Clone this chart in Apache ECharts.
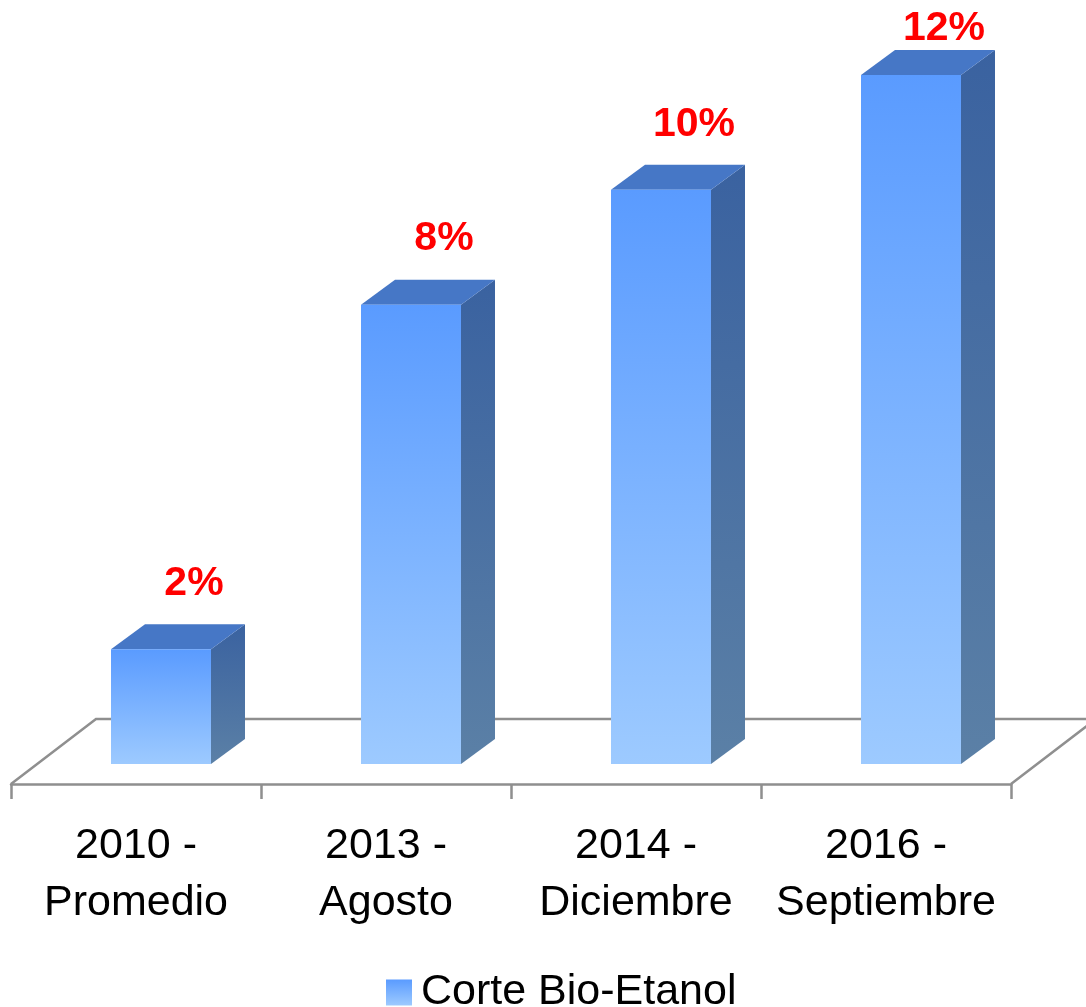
<!DOCTYPE html>
<html>
<head>
<meta charset="utf-8">
<script src="https://cdn.jsdelivr.net/npm/echarts@6/dist/echarts.min.js"></script>
<style>
  html, body { margin: 0; padding: 0; background: #fff; }
  #chart { width: 1086px; height: 1007px; }
</style>
</head>
<body>
<div id="chart"></div>
<script>
// datos del grafico
let categories = ['2010 -\nPromedio', '2013 -\nAgosto', '2014 -\nDiciembre', '2016 -\nSeptiembre'];
let corteValues = [2, 8, 10, 12];
let labelTexts = ['2%', '8%', '10%', '12%'];
let seriesName = 'Corte Bio-Etanol';

let fontFamily = '"Liberation Sans", Arial, sans-serif';
let floorColor = '#8f8f8f';

// 3D look: bar depth and offsets (px)
let depthX = 34, depthY = 25;       // bar depth
let frontX = 25, frontY = 20;       // bar front plane inset from floor front edge
let floorX = 85, floorY = 65;       // floor depth

function frontGradient() {
  return new echarts.graphic.LinearGradient(0, 0, 0, 1, [
    {offset: 0, color: '#5a9bff'},
    {offset: 1, color: '#9dcaff'}
  ]);
}

function sideGradient() {
  return new echarts.graphic.LinearGradient(0, 0, 0, 1, [
    {offset: 0, color: '#3a62a0'},
    {offset: 1, color: '#5b80a6'}
  ]);
}

function renderBar(params, api) {
  let idx = api.value(0);
  let base = api.coord([idx, 0]);
  let top = api.coord([idx, api.value(1)]);
  let band = api.size([1, 0])[0];
  let w = band * 0.4;
  let cx = base[0] + frontX;
  let x0 = cx - w / 2, x1 = cx + w / 2;
  let yb = base[1] - frontY;
  let yt = top[1] - frontY;
  // etiqueta sobre la barra, sin salirse del borde superior
  let labelY = Math.max(yt - depthY - 20, 49);
  return {
    type: 'group',
    children: [
      {
        type: 'polygon',
        shape: {points: [[x1, yt], [x1 + depthX, yt - depthY], [x1 + depthX, yb - depthY], [x1, yb]]},
        style: {fill: sideGradient()}
      },
      {
        type: 'polygon',
        shape: {points: [[x0, yt], [x0 + depthX, yt - depthY], [x1 + depthX, yt - depthY], [x1, yt]]},
        style: {fill: '#4677c6'}
      },
      {
        type: 'rect',
        shape: {x: x0, y: yt, width: w, height: yb - yt},
        style: {fill: frontGradient()}
      },
      {
        type: 'text',
        x: cx + 33,
        y: labelY,
        style: {
          text: labelTexts[params.dataIndex],
          fill: '#ff0000',
          font: 'bold 41px ' + fontFamily,
          textAlign: 'center',
          textVerticalAlign: 'bottom'
        }
      }
    ]
  };
}

function renderFloor(params, api) {
  let band = api.size([1, 0])[0];
  let left = api.coord([0, 0]);
  let right = api.coord([categories.length - 1, 0]);
  let lx = left[0] - band / 2, rx = right[0] + band / 2, y = left[1];
  return {
    type: 'polyline',
    shape: {points: [[lx, y], [lx + floorX, y - floorY], [rx + floorX, y - floorY], [rx, y]]},
    style: {stroke: floorColor, lineWidth: 2.5, fill: null}
  };
}

let chart = echarts.init(document.getElementById('chart'));
let option = {
  backgroundColor: '#fff',
  animation: false,
  grid: {left: 11, right: 75, top: 95, bottom: 223},
  legend: {
    data: [seriesName],
    left: 381,
    top: 966,
    icon: 'rect',
    itemWidth: 26,
    itemHeight: 26,
    textStyle: {fontSize: 43, fontFamily: fontFamily, color: '#000', padding: [0, 0, 0, 4]}
  },
  xAxis: {
    type: 'category',
    data: categories,
    axisLine: {show: true, lineStyle: {color: floorColor, width: 2.5}},
    axisTick: {show: true, length: 15, lineStyle: {color: floorColor, width: 2.5}},
    axisLabel: {
      fontSize: 43,
      lineHeight: 57,
      margin: 34,
      color: '#000',
      fontFamily: fontFamily,
      interval: 0
    }
  },
  yAxis: {
    type: 'value',
    min: 0,
    max: 12,
    show: false,
    splitLine: {show: false}
  },
  series: [
    {
      name: 'floor',
      type: 'custom',
      renderItem: renderFloor,
      data: [[0, 0]],
      z: 1,
      silent: true
    },
    {
      name: seriesName,
      type: 'custom',
      renderItem: renderBar,
      itemStyle: {color: frontGradient()},
      encode: {x: 0, y: 1},
      data: corteValues.map((v, i) => [i, v]),
      z: 2
    }
  ]
};
chart.setOption(option);
</script>
</body>
</html>
